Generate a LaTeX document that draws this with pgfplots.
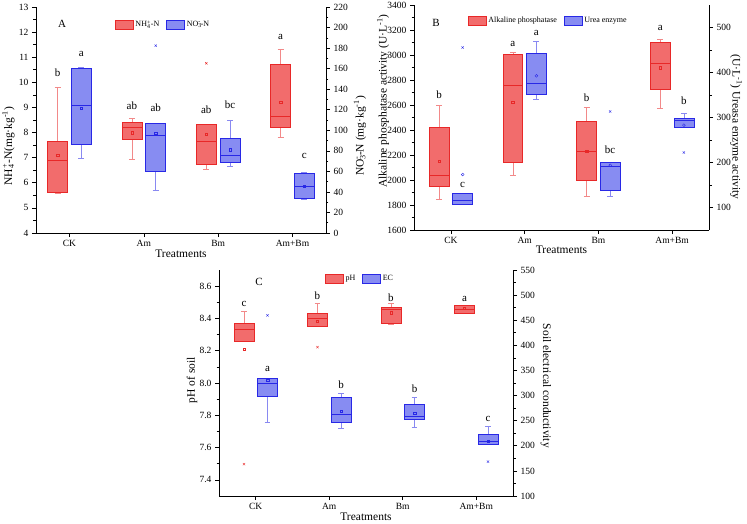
\documentclass[border=0pt]{standalone}
\usepackage{fontspec}
\setmainfont{Liberation Serif}
\usepackage{pgfplots}
\pgfplotsset{compat=1.18}
\definecolor{redfill}{RGB}{242,108,108}
\definecolor{redline}{RGB}{232,40,40}
\definecolor{bluefill}{RGB}{135,140,242}
\definecolor{blueline}{RGB}{40,40,230}

\pgfplotsset{
  base/.style={scale only axis, clip=false, tick align=outside,
    major tick length=4pt, minor tick length=2.5pt,
    axis line style={line width=0.6pt},
    every tick/.style={black, line width=0.6pt},
    tick label style={font=\fontsize{9.5}{10}\selectfont},
    /pgf/number format/assume math mode=true,
    /pgf/number format/1000 sep={},
    xtick={1,2,3,4}, xticklabels={CK,Am,Bm,Am+Bm},
  },
  leftax/.style={base, axis x line*=bottom, axis y line*=left, minor y tick num=1,
    xlabel={Treatments},
    every axis x label/.style={at={(axis description cs:0.5,-0.09)}, anchor=center, font=\fontsize{11.5}{12}\selectfont},
    legend style={draw=none, fill=none, inner sep=0pt, legend columns=2,
      font=\fontsize{8}{9}\selectfont, /tikz/every even column/.append style={column sep=5pt}},
    legend image code/.code={\draw[##1] (0pt,-4.5pt) rectangle (18pt,4.5pt);},
  },
  rightax/.style={base, axis x line=none, axis y line*=right, minor y tick num=1},
  ylab/.style 2 args={every axis y label/.style={at={(axis description cs:#1)}, rotate=#2, anchor=center, font=\fontsize{11.5}{12}\selectfont}},
}

% #1 line colour, #2 fill colour, #3 position, #4 lower whisker, #5 lower quartile, #6 median, #7 upper quartile, #8 upper whisker
\newcommand{\mybox}[8]{%
  \pgfmathsetmacro\xl{#3-0.135}\pgfmathsetmacro\xr{#3+0.135}%
  \pgfmathsetmacro\xca{#3-0.04}\pgfmathsetmacro\xcb{#3+0.04}%
  \addplot[forget plot, draw=#1!55, line width=0.6pt] coordinates {(#3,#4) (#3,#5)};
  \addplot[forget plot, draw=#1!55, line width=0.6pt] coordinates {(#3,#7) (#3,#8)};
  \addplot[forget plot, draw=#1!55, line width=0.6pt] coordinates {(\xca,#4) (\xcb,#4)};
  \addplot[forget plot, draw=#1!55, line width=0.6pt] coordinates {(\xca,#8) (\xcb,#8)};
  \addplot[forget plot, draw=#1, fill=#2, line width=0.6pt] coordinates {(\xl,#5) (\xr,#5) (\xr,#7) (\xl,#7)} -- cycle;
  \addplot[forget plot, draw=#1, line width=0.8pt] coordinates {(\xl,#6) (\xr,#6)};
}
\newcommand{\rbox}[6]{\mybox{redline}{redfill}{#1}{#2}{#3}{#4}{#5}{#6}}
\newcommand{\bbox}[6]{\mybox{blueline}{bluefill}{#1}{#2}{#3}{#4}{#5}{#6}}
\newcommand{\lett}[2]{\node[font=\fontsize{11}{12}\selectfont] at (axis cs:#1) {#2};}

\begin{document}
\begin{tikzpicture}
\useasboundingbox (0pt,0pt) rectangle (747pt,-523pt);

% ================= Panel A =================
\begin{axis}[leftax, at={(36pt,-233pt)}, anchor=south west, width=290pt, height=226pt,
  xmin=0.55, xmax=4.45, ymin=4, ymax=13, ytick={4,5,...,13},
  ylab={-0.095,0.385}{90}, ylabel={NH\rlap{\textsubscript{4}}\textsuperscript{+}-N(mg·kg\textsuperscript{-1})},
  legend style={at={(axis description cs:0.272,0.9226)}, anchor=west}]
\rbox{0.84}{5.58}{5.63}{6.89}{7.65}{9.81}
\rbox{1.84}{6.92}{7.74}{8.19}{8.41}{8.55}
\rbox{2.84}{6.55}{6.73}{7.66}{8.33}{8.33}
\rbox{3.84}{7.80}{8.22}{8.66}{10.73}{11.30}
\addplot[forget plot, only marks, mark=square, mark size=1.2pt, redline] coordinates {(0.84,7.09) (1.84,8.00) (2.84,7.94) (3.84,9.22)};
\addplot[forget plot, only marks, mark=x, mark size=1.6pt, redline] coordinates {(2.84,10.76)};
\addlegendimage{draw=redline, fill=redfill}
\addlegendentry{NH\rlap{\textsubscript{4}}\textsuperscript{+}-N}
\addlegendimage{draw=blueline, fill=bluefill}
\addlegendentry{NO\rlap{\textsubscript{3}}\textsuperscript{-}-N}
\node[font=\fontsize{11}{12}\selectfont] at (axis description cs:0.0897,0.925) {A};
\lett{0.84,10.40}{b}
\lett{1.16,11.14}{a}
\lett{1.84,9.07}{ab}
\lett{2.16,8.98}{ab}
\lett{2.84,8.91}{ab}
\lett{3.16,9.11}{bc}
\lett{3.84,11.79}{a}
\lett{4.16,7.08}{c}
\end{axis}
\begin{axis}[rightax, at={(36pt,-233pt)}, anchor=south west, width=290pt, height=226pt,
  xmin=0.55, xmax=4.45, ymin=0, ymax=220, ytick={0,20,...,220},
  ylab={1.117,0.43}{90}, ylabel={NO\rlap{\textsubscript{3}}\textsuperscript{-}-N (mg·kg\textsuperscript{-1})}]
\bbox{1.16}{73.0}{86.3}{124.6}{160.6}{161.3}
\bbox{2.16}{41.2}{60.0}{95.4}{107.1}{107.1}
\bbox{3.16}{65.2}{69.1}{75.3}{92.5}{110.0}
\bbox{4.16}{32.8}{33.8}{45.8}{57.8}{58.7}
\addplot[forget plot, only marks, mark=square, mark size=1.2pt, blueline] coordinates {(1.16,121.7) (2.16,97.0) (3.16,81.1) (4.16,45.8)};
\addplot[forget plot, only marks, mark=x, mark size=1.6pt, blueline] coordinates {(2.16,182.4)};
\end{axis}

% ================= Panel B =================
\begin{axis}[leftax, at={(414pt,-230pt)}, anchor=south west, width=295pt, height=225pt,
  xmin=0.5, xmax=4.5, ymin=1600, ymax=3400, ytick={1600,1800,...,3400},
  ylab={-0.105,0.573}{90}, ylabel={Alkaline phosphatase activity (U·L\textsuperscript{-1})},
  legend style={at={(axis description cs:0.182,0.931)}, anchor=west}]
\rbox{0.84}{1848}{1947}{2040}{2421}{2597}
\rbox{1.84}{2035}{2141}{2757}{3008}{3019}
\rbox{2.84}{1869}{1995}{2232}{2469}{2581}
\rbox{3.84}{2573}{2725}{2933}{3104}{3123}
\addplot[forget plot, only marks, mark=square, mark size=1.2pt, redline] coordinates {(0.84,2149) (1.84,2621) (2.84,2229) (3.84,2899)};
\addlegendimage{draw=redline, fill=redfill}
\addlegendentry{Alkaline phosphatase}
\addlegendimage{draw=blueline, fill=bluefill}
\addlegendentry{Urea enzyme}
\node[font=\fontsize{11}{12}\selectfont] at (axis description cs:0.0746,0.92) {B};
\lett{0.84,2680}{b}
\lett{1.16,1960}{c}
\lett{1.84,3088}{a}
\lett{2.16,3176}{a}
\lett{2.84,2661}{b}
\lett{3.16,2245}{bc}
\lett{3.84,3213}{a}
\lett{4.16,2635}{b}
\end{axis}
\begin{axis}[rightax, at={(414pt,-230pt)}, anchor=south west, width=295pt, height=225pt,
  xmin=0.5, xmax=4.5, ymin=50, ymax=550, ytick={100,200,...,500},
  ylab={1.092,0.458}{-90}, ylabel={(U·L\textsuperscript{-1}) Ureasa enzyme activity}]
\bbox{1.16}{107.4}{107.4}{116.3}{131.9}{131.9}
\bbox{2.16}{340.0}{351.1}{375.6}{442.2}{468.9}
\bbox{3.16}{125.2}{139.3}{191.9}{200.0}{200.0}
\bbox{4.16}{279.3}{279.3}{292.6}{298.5}{308.9}
\addplot[forget plot, only marks, mark=o, mark size=1.4pt, blueline] coordinates {(1.16,173.3) (2.16,392.6) (3.16,194.0) (4.16,283.0)};
\addplot[forget plot, only marks, mark=x, mark size=1.6pt, blueline] coordinates {(1.16,455.6) (3.16,313.3) (4.16,222.2)};
\end{axis}

% ================= Panel C =================
\begin{axis}[leftax, at={(219pt,-496pt)}, anchor=south west, width=294pt, height=226pt,
  xmin=0.5, xmax=4.5, ymin=7.3, ymax=8.7, ytick={7.4,7.6,7.8,8.0,8.2,8.4,8.6},
  yticklabel style={/pgf/number format/.cd, fixed, fixed zerofill, precision=1},
  ylab={-0.092,0.513}{90}, ylabel={pH of soil},
  legend style={at={(axis description cs:0.3605,0.960)}, anchor=west}]
\rbox{0.84}{8.260}{8.260}{8.332}{8.370}{8.442}
\rbox{1.84}{8.351}{8.351}{8.399}{8.432}{8.496}
\rbox{2.84}{8.361}{8.370}{8.457}{8.471}{8.492}
\rbox{3.84}{8.432}{8.432}{8.453}{8.480}{8.480}
\addplot[forget plot, only marks, mark=square, mark size=1.2pt, redline] coordinates {(0.84,8.208) (1.84,8.382) (2.84,8.436) (3.84,8.463)};
\addplot[forget plot, only marks, mark=x, mark size=1.6pt, redline] coordinates {(0.84,7.498) (1.84,8.222)};
\addlegendimage{draw=redline, fill=redfill}
\addlegendentry{pH}
\addlegendimage{draw=blueline, fill=bluefill}
\addlegendentry{EC}
\node[font=\fontsize{11}{12}\selectfont] at (axis description cs:0.136,0.947) {C};
\lett{0.84,8.488}{c}
\lett{1.16,8.085}{a}
\lett{1.84,8.54}{b}
\lett{2.16,7.99}{b}
\lett{2.84,8.531}{b}
\lett{3.16,7.965}{b}
\lett{3.84,8.523}{a}
\lett{4.16,7.78}{c}
\end{axis}
\begin{axis}[rightax, at={(219pt,-496pt)}, anchor=south west, width=294pt, height=226pt,
  xmin=0.5, xmax=4.5, ymin=100, ymax=550, ytick={100,150,...,550},
  ylab={1.112,0.487}{-90}, ylabel={Soil electrical conductivity}]
\bbox{1.16}{246.0}{297.8}{324.3}{334.3}{334.3}
\bbox{2.16}{234.7}{246.7}{263.3}{295.8}{305.1}
\bbox{3.16}{236.7}{253.3}{258.0}{282.5}{297.1}
\bbox{4.16}{203.5}{203.5}{208.9}{222.8}{238.7}
\addplot[forget plot, only marks, mark=square, mark size=1.2pt, blueline] coordinates {(1.16,331.0) (2.16,268.6) (3.16,265.3) (4.16,209.5)};
\addplot[forget plot, only marks, mark=x, mark size=1.6pt, blueline] coordinates {(1.16,459.7) (4.16,168.4)};
\end{axis}
\end{tikzpicture}
\end{document}
